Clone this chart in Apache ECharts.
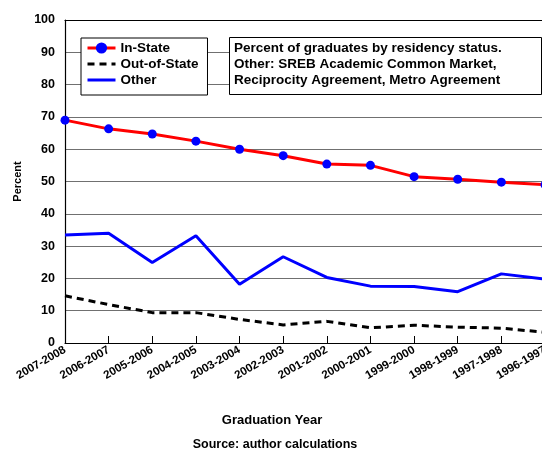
<!DOCTYPE html>
<html>
<head>
<meta charset="utf-8">
<script src="https://cdn.jsdelivr.net/npm/echarts@6/dist/echarts.min.js"></script>
<style>
  html, body { margin: 0; padding: 0; background: #fff; }
  #chart { width: 542px; height: 451px; }
</style>
</head>
<body>
<div id="chart"></div>
<script>
// graduation years, newest first
var years = ['2007-2008', '2006-2007', '2005-2006', '2004-2005', '2003-2004', '2002-2003',
             '2001-2002', '2000-2001', '1999-2000', '1998-1999', '1997-1998', '1996-1997'];
var inState  = [69.0, 66.3, 64.7, 62.5, 60.0, 58.0, 55.4, 55.0, 51.5, 50.7, 49.8, 49.0];
var outState = [14.6, 11.9, 9.4, 9.4, 7.3, 5.6, 6.7, 4.7, 5.5, 4.9, 4.6, 3.3];
var other    = [33.4, 34.0, 24.9, 33.2, 18.2, 26.7, 20.3, 17.6, 17.5, 15.9, 21.4, 19.8];
var noteLines = ['Percent of graduates by residency status.',
                 'Other: SREB Academic Common Market,',
                 'Reciprocity Agreement, Metro Agreement'];

var font = '"Liberation Sans", Arial, sans-serif';
var chart = echarts.init(document.getElementById('chart'));

var option = {
  animation: false,
  textStyle: { fontFamily: font },
  grid: { left: 65, right: -3, top: 20, bottom: 108, outerBoundsMode: 'none', containLabel: false },
  legend: {
    orient: 'vertical',
    left: 81, top: 38,
    padding: [2, 9, 7, 5],
    itemGap: 0,
    itemWidth: 28,
    itemHeight: 14,
    backgroundColor: '#fff',
    borderColor: '#000',
    borderWidth: 1,
    lineStyle: { width: 3 },
    textStyle: { fontFamily: font, fontWeight: 'bold', fontSize: 13.5, color: '#000', lineHeight: 16 },
    data: [
      { name: 'In-State' },
      { name: 'Out-of-State', itemStyle: { opacity: 0 } },
      { name: 'Other', itemStyle: { opacity: 0 } }
    ]
  },
  xAxis: [
    {
      type: 'category',
      data: years,
      boundaryGap: false,
      axisLine: { lineStyle: { color: '#000', width: 1.2 } },
      axisTick: { inside: true, length: 7, lineStyle: { color: '#000' } },
      axisLabel: {
        interval: 0, rotate: 30, margin: 6,
        fontFamily: font, fontWeight: 'bold', fontSize: 11.5, color: '#000'
      }
    },
    {
      type: 'category',
      data: years,
      boundaryGap: false,
      position: 'top',
      axisLine: { lineStyle: { color: '#000', width: 1.2 } },
      axisTick: { show: false },
      axisLabel: { show: false }
    }
  ],
  yAxis: {
    type: 'value',
    min: 0, max: 100, interval: 10,
    name: 'Percent',
    nameLocation: 'middle',
    nameGap: 41,
    nameTextStyle: { fontFamily: font, fontWeight: 'bold', fontSize: 11, color: '#000' },
    axisLine: { show: true, lineStyle: { color: '#000', width: 1.2 } },
    axisTick: { show: false },
    axisLabel: { margin: 10, fontFamily: font, fontWeight: 'bold', fontSize: 12.5, color: '#000' },
    splitLine: { lineStyle: { color: '#707070', width: 1 } }
  },
  graphic: [
    {
      type: 'rect',
      shape: { x: 229.5, y: 37.5, width: 312, height: 57 },
      style: { fill: '#fff', stroke: '#000', lineWidth: 1 },
      z: 10
    },
    {
      type: 'text',
      x: 234, y: 40,
      style: {
        text: noteLines.join('\n'),
        font: 'bold 13.5px ' + font,
        lineHeight: 16,
        fill: '#000'
      },
      z: 11
    },
    {
      type: 'text',
      x: 272, y: 420,
      style: { text: 'Graduation Year', font: 'bold 13px ' + font, fill: '#000',
               align: 'center', verticalAlign: 'middle' }
    },
    {
      type: 'text',
      x: 275, y: 445,
      style: { text: 'Source: author calculations', font: 'bold 12.5px ' + font, fill: '#000',
               align: 'center', verticalAlign: 'middle' }
    }
  ],
  series: [
    {
      name: 'In-State',
      type: 'line',
      data: inState,
      symbol: 'circle',
      symbolSize: 9,
      itemStyle: { color: '#0000ff' },
      lineStyle: { color: '#ff0000', width: 3 },
      z: 5
    },
    {
      name: 'Out-of-State',
      type: 'line',
      data: outState,
      symbol: 'none',
      itemStyle: { color: '#000' },
      lineStyle: { color: '#000', width: 3, type: [7, 5] }
    },
    {
      name: 'Other',
      type: 'line',
      data: other,
      symbol: 'none',
      itemStyle: { color: '#0000ff' },
      lineStyle: { color: '#0000ff', width: 3 }
    }
  ]
};

chart.setOption(option);
</script>
</body>
</html>
